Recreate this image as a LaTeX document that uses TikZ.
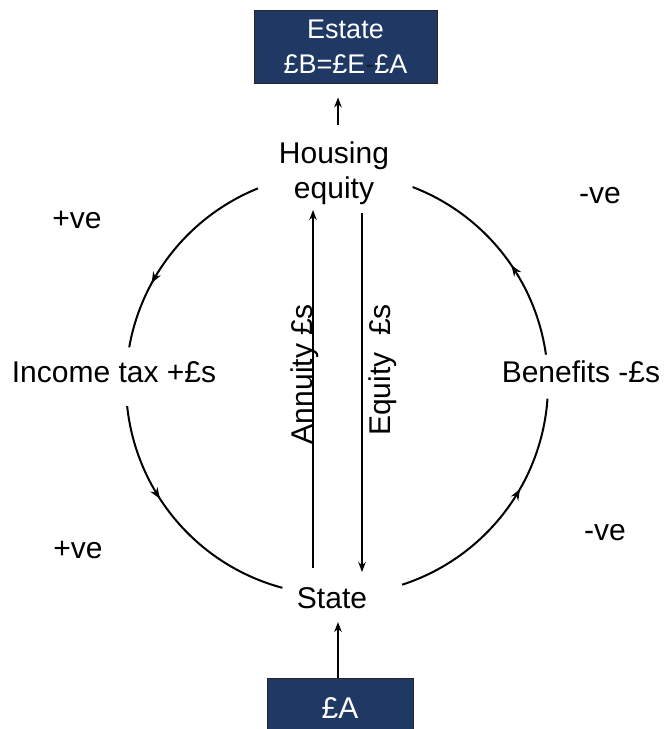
\documentclass[tikz,border=0pt]{standalone}
\usepackage{fontspec}
\setmainfont{Liberation Sans}
\usetikzlibrary{arrows.meta,decorations.markings}
\definecolor{navy}{RGB}{31,56,100}
\definecolor{dashc}{RGB}{20,30,50}
\begin{document}
\begin{tikzpicture}[x=1pt,y=-1pt,
  lbl/.style={font=\fontsize{30}{35}\selectfont, inner sep=0pt},
  navybox/.style={draw=black!85, line width=0.8pt, fill=navy, text=white, inner sep=0pt, align=center},
  tip/.style={-{Stealth[length=10pt,width=7.5pt]}},
  arr/.style={tip, line width=1.6pt},
  ring/.style={line width=2pt, postaction={decorate},
    decoration={markings, mark=at position #1 with {\arrow{Stealth[length=11pt,width=8.5pt]}}}}]
\useasboundingbox (0,0) rectangle (664,729);

% boxes
\node[navybox, minimum width=183pt, minimum height=73pt, font=\fontsize{27}{35}\selectfont] (estate) at (345.5,46.5) {Estate\\£B=£E{\color{dashc}-}£A};
\node[navybox, minimum width=146pt, minimum height=60pt, font=\fontsize{30}{35}\selectfont] (pa) at (340,708) {£A};

% labels
\node[lbl, align=center] (housing) at (334,173) {Housing\\equity};
\node[lbl, anchor=base] (state) at (332,608) {State};
\node[lbl, anchor=base] (inc) at (114,382) {Income tax +£s};
\node[lbl, anchor=base] (ben) at (581,382) {Benefits -£s};
\node[lbl, anchor=base] (pv1) at (77,228) {+ve};
\node[lbl, anchor=base] (pv2) at (78,558) {+ve};
\node[lbl, anchor=base] (nv1) at (600,203) {-ve};
\node[lbl, anchor=base] (nv2) at (605,540) {-ve};
\node[lbl, anchor=base, rotate=90] (ann) at (312,374) {Annuity £s};
\node[lbl, anchor=base, rotate=90] (eq) at (390,370) {Equity\ \ £s};

% connector end points
\coordinate (ea) at (estate.south -| 338,0);
\coordinate (ha) at (338,125);
\coordinate (pt) at (pa.north -| 338,0);
\coordinate (sa) at (338,622);
\coordinate (a0) at (313,568);
\coordinate (a1) at (313,210);
\coordinate (e0) at (362,213);
\coordinate (e1) at (362,572);
\coordinate (c) at (337,384);

% straight arrows
\draw[arr] (ha) -- ([yshift=-14pt]ea);
\draw[arr] (pt) -- (sa);
\draw[arr] (a0) -- (a1);
\draw[arr] (e0) -- (e1);

% ring arcs (counter-clockwise on the page)
\draw[ring=0.68] (c) ++(-112:211) arc[start angle=-112, end angle=-170, radius=211];
\draw[ring=0.39] (c) ++(-186:211) arc[start angle=-186, end angle=-255, radius=211];
\draw[ring=0.62] (c) ++(72:211) arc[start angle=72, end angle=4, radius=211];
\draw[ring=0.43] (c) ++(-8:211) arc[start angle=-8, end angle=-69, radius=211];
\end{tikzpicture}
\end{document}
